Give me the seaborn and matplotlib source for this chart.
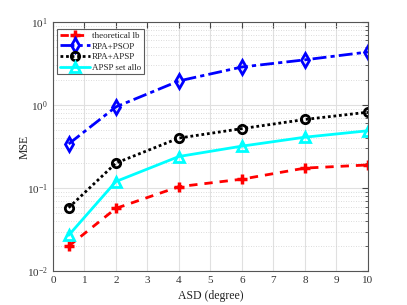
import numpy as np
import pandas as pd
import matplotlib
matplotlib.use("Agg")
import matplotlib.pyplot as plt
import seaborn as sns
from matplotlib.ticker import LogLocator, NullFormatter

asd = [0.5, 2, 4, 6, 8, 10]
theo_lb = [0.020, 0.057, 0.104, 0.128, 0.174, 0.19]
rpa_psop = [0.34, 0.95, 1.95, 2.87, 3.5, 4.35]
rpa_apsp = [0.058, 0.20, 0.40, 0.52, 0.67, 0.82]
apsp_set = [0.027, 0.12, 0.24, 0.32, 0.41, 0.49]
names = ["theoretical lb", "RPA+PSOP", "RPA+APSP", "APSP set allo"]

sns.set_style("white")
plt.rcParams['font.family'] = ['Liberation Serif', 'DejaVu Serif']
plt.rcParams['mathtext.fontset'] = 'stix'

fig = plt.figure(figsize=(4.07, 3.05), dpi=100)
ax = fig.add_axes([0.130, 0.111, 0.774, 0.817])

styles = [
    dict(color="red", ls=(0, (3, 2.5)), marker="+", ms=7),
    dict(color="blue", ls=(0, (5, 1.5, 1.5, 1.5)), marker="d", ms=7),
    dict(color="black", ls=(0, (1, 1)), marker="o", ms=6),
    dict(color="cyan", ls="-", marker="^", ms=7),
]
series = [theo_lb, rpa_psop, rpa_apsp, apsp_set]
for name, vals, st in zip(names, series, styles):
    df = pd.DataFrame({"ASD": asd, "MSE": vals})
    sns.lineplot(data=df, x="ASD", y="MSE", ax=ax, label=name, color=st["color"],
                 linestyle=st["ls"], linewidth=2, marker=st["marker"], markersize=st["ms"],
                 markerfacecolor="none", markeredgecolor=st["color"],
                 markeredgewidth=2.5 if st["marker"] == "+" else 2)

ax.set_yscale("log")
ax.set_xlim(0, 10)
ax.set_ylim(1e-2, 1e1)
ax.set_xticks(range(0, 11))
ax.yaxis.set_major_locator(LogLocator(base=10))
ax.yaxis.set_minor_locator(LogLocator(base=10, subs=np.arange(2, 10)))
ax.yaxis.set_minor_formatter(NullFormatter())
ax.grid(True, which="major", color="#e0e0e0", lw=0.8)
ax.grid(True, which="minor", axis="y", color="#d0d0d0", ls=(0, (1, 2)), lw=0.6)
ax.tick_params(direction="in", which="both", top=True, right=True, labelsize=8,
               colors="#444444", labelcolor="#333333")
ax.tick_params(which="major", length=4)
ax.tick_params(which="minor", length=2)
for s in ax.spines.values():
    s.set_color("#555555")
    s.set_linewidth(0.8)
ax.set_xlabel("ASD (degree)", fontsize=8.5, color="#222222")
ax.set_ylabel("MSE", fontsize=8.5, color="#222222")
ax.xaxis.set_label_coords(0.5, -0.075)
ax.yaxis.set_label_coords(-0.07, 0.5)

leg = ax.legend(loc="upper left", fontsize=6.5, frameon=True, fancybox=False,
                edgecolor="#333333", handlelength=3.3, handletextpad=0.3,
                borderpad=0.3, labelspacing=0.25, borderaxespad=0,
                bbox_to_anchor=(0.013, 0.972))
leg.get_frame().set_linewidth(0.8)

fig.savefig("out.png", dpi=100)
